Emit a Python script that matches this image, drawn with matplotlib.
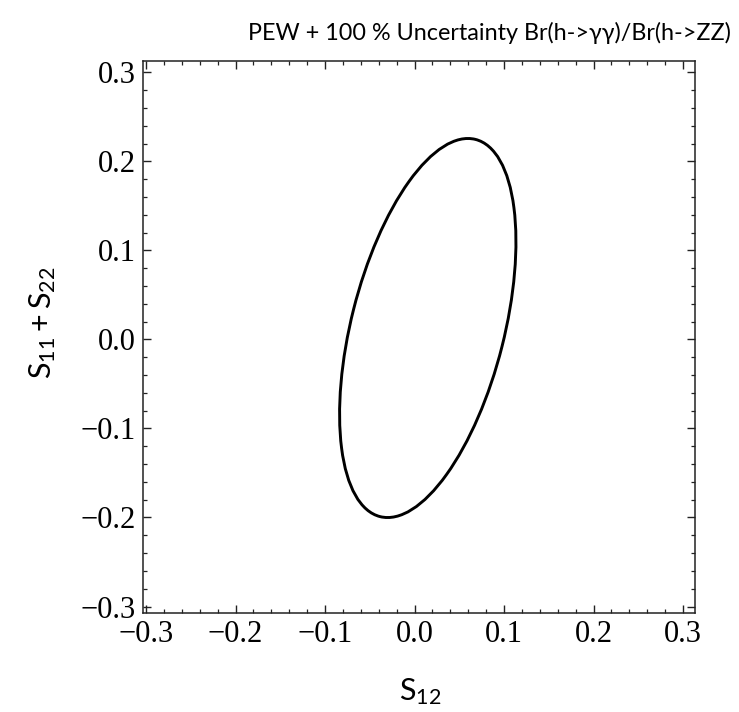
import matplotlib
matplotlib.use('Agg')
from matplotlib import pyplot as plt
from matplotlib.patches import Ellipse
from matplotlib.ticker import MultipleLocator

# Ellipse (data units)
center = (0.0148, 0.0129)
semi_major = 0.2185
semi_minor = 0.0855
angle_deg = 75.9

x_ticks = [-0.3, -0.2, -0.1, 0.0, 0.1, 0.2, 0.3]
y_ticks = [-0.3, -0.2, -0.1, 0.0, 0.1, 0.2, 0.3]
x_lim = (-0.3034, 0.3134)
y_lim = (-0.3073, 0.3129)

title = 'PEW + 100 % Uncertainty Br(h->\u03b3\u03b3)/Br(h->ZZ)'

plt.rcParams['mathtext.fontset'] = 'custom'
plt.rcParams['mathtext.rm'] = 'Lato'
plt.rcParams['mathtext.it'] = 'Lato'
plt.rcParams['mathtext.bf'] = 'Lato'

fig = plt.figure(figsize=(7.39, 7.12), dpi=100)
ax = fig.add_axes([143 / 739, 1 - 613 / 712, (695 - 143) / 739, (613 - 61) / 712])

ell = Ellipse(center, 2 * semi_major, 2 * semi_minor, angle=angle_deg,
              fill=False, edgecolor='black', linewidth=2.1)
ax.add_patch(ell)

ax.set_xlim(*x_lim)
ax.set_ylim(*y_lim)
ax.set_xticks(x_ticks)
ax.set_yticks(y_ticks)
ax.set_xticklabels(['\u22120.3', '\u22120.2', '\u22120.1', '0.0', '0.1', '0.2', '0.3'])
ax.set_yticklabels(['\u22120.3', '\u22120.2', '\u22120.1', '0.0', '0.1', '0.2', '0.3'])
ax.xaxis.set_minor_locator(MultipleLocator(0.02))
ax.yaxis.set_minor_locator(MultipleLocator(0.02))
ax.tick_params(which='both', direction='in', top=True, right=True, color='#222222')
ax.tick_params(which='major', length=6, width=1.0, pad=5)
ax.tick_params(which='minor', length=3.2, width=0.9)
for lab in ax.get_xticklabels() + ax.get_yticklabels():
    lab.set_family('Liberation Serif')
    lab.set_fontsize(22)
for sp in ax.spines.values():
    sp.set_linewidth(1.1)
    sp.set_color('#222222')

# title sits right of the axes centre in the original
fig.text(489 / 739, 1 - 33 / 712, title, ha='center', va='center',
         family='Lato', fontsize=16.8)
fig.text(420 / 739, 1 - 692 / 712, r'$\mathrm{S}_{12}$', ha='center', va='center', fontsize=22)
fig.text(43 / 739, 1 - 323 / 712, r'$\mathrm{S}_{11}+\mathrm{S}_{22}$', ha='center', va='center',
         rotation=90, fontsize=22)

fig.savefig('out.png', dpi=100)
plt.close(fig)
